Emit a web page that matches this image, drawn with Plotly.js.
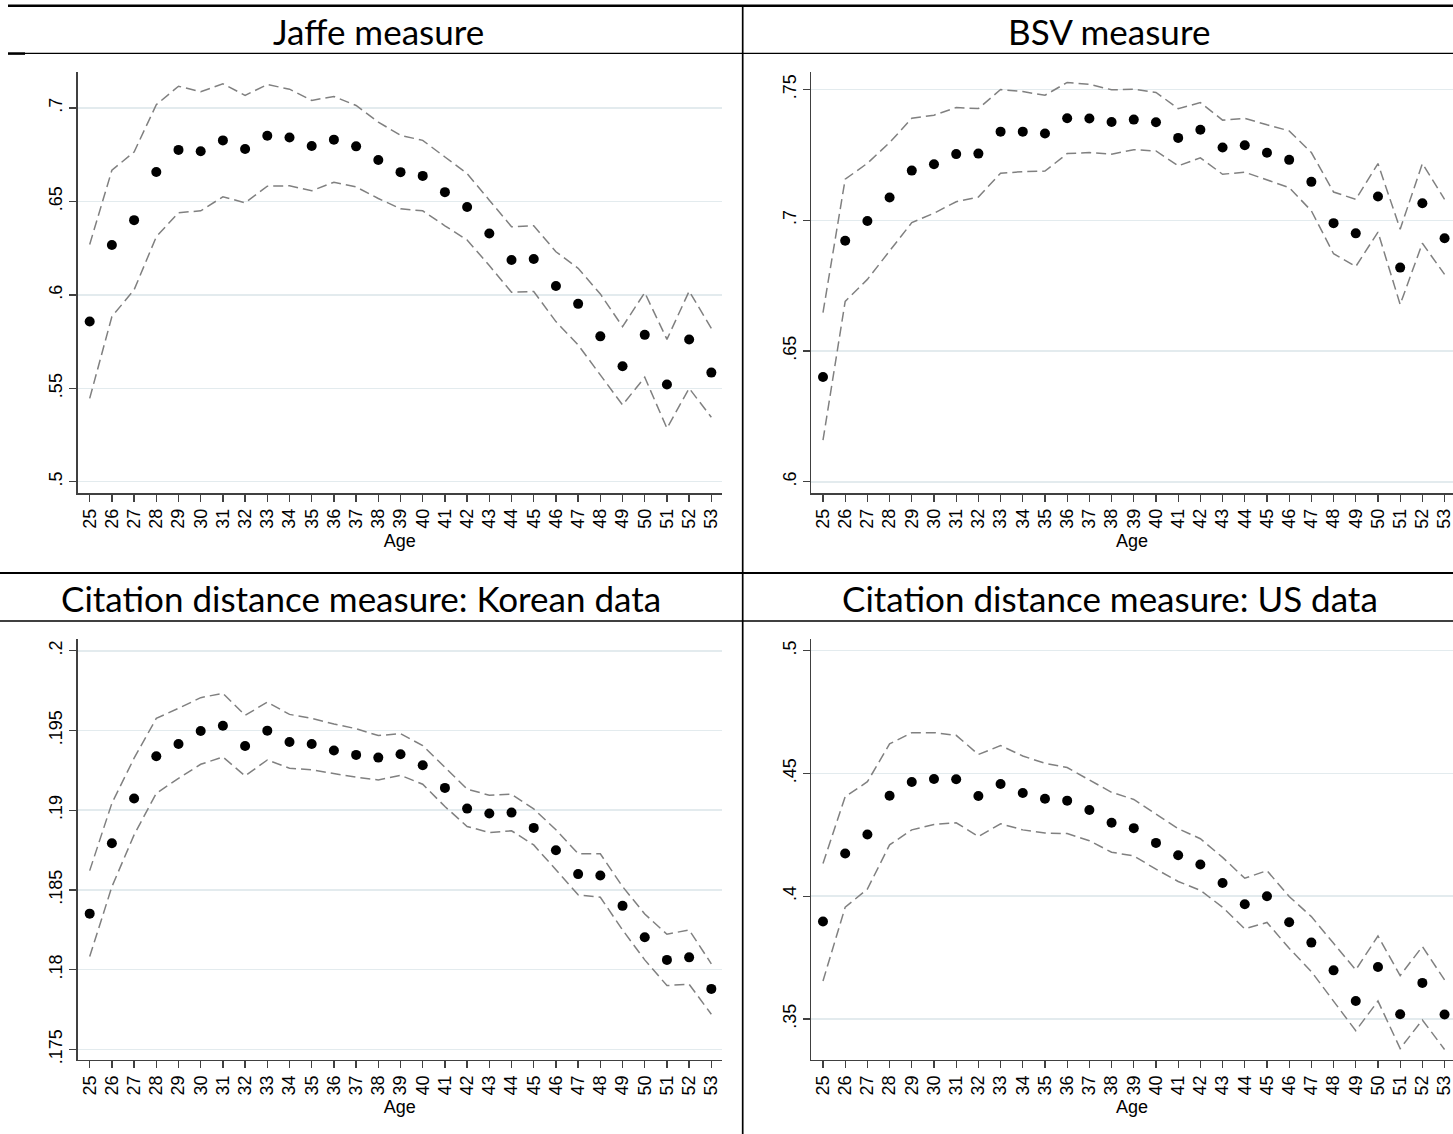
<!DOCTYPE html>
<html>
<head>
<meta charset="utf-8">
<script src="https://cdn.plot.ly/plotly-3.0.1.min.js"></script>
<style>
  html, body { margin: 0; padding: 0; background: #ffffff; }
  #chart { width: 1453px; height: 1134px; }
</style>
</head>
<body>
<div id="chart"></div>
<script>
// ---------- Data ----------
const ages = [25,26,27,28,29,30,31,32,33,34,35,36,37,38,39,40,41,42,43,44,45,46,47,48,49,50,51,52,53];

const jaffe      = [0.5858,0.6267,0.6400,0.6658,0.6776,0.6769,0.6827,0.6781,0.6852,0.6842,0.6797,0.6831,0.6795,0.6722,0.6657,0.6637,0.6550,0.6470,0.6329,0.6187,0.6192,0.6048,0.5952,0.5778,0.5618,0.5786,0.5520,0.5761,0.5584];
const jaffeUpper = [0.6270,0.6667,0.6765,0.7018,0.7117,0.7087,0.7130,0.7068,0.7126,0.7101,0.7041,0.7062,0.7014,0.6925,0.6854,0.6827,0.6738,0.6649,0.6507,0.6365,0.6370,0.6231,0.6142,0.6005,0.5830,0.6012,0.5762,0.6020,0.5821];
const jaffeLower = [0.5446,0.5884,0.6027,0.6311,0.6440,0.6450,0.6525,0.6493,0.6582,0.6584,0.6557,0.6603,0.6578,0.6516,0.6461,0.6450,0.6370,0.6294,0.6157,0.6014,0.6018,0.5857,0.5732,0.5571,0.5411,0.5559,0.5286,0.5500,0.5345];

const bsv      = [0.6401,0.6922,0.6997,0.7087,0.7190,0.7214,0.7253,0.7255,0.7339,0.7339,0.7332,0.7390,0.7389,0.7376,0.7385,0.7375,0.7315,0.7346,0.7278,0.7287,0.7258,0.7231,0.7147,0.6989,0.6950,0.7091,0.6819,0.7065,0.6931];
const bsvUpper = [0.6647,0.7157,0.7218,0.7297,0.7390,0.7402,0.7431,0.7427,0.7500,0.7492,0.7478,0.7527,0.7520,0.7499,0.7501,0.7489,0.7427,0.7450,0.7383,0.7390,0.7365,0.7342,0.7259,0.7108,0.7080,0.7217,0.6966,0.7217,0.7080];
const bsvLower = [0.6159,0.6690,0.6774,0.6883,0.6991,0.7027,0.7071,0.7089,0.7180,0.7186,0.7188,0.7255,0.7259,0.7253,0.7270,0.7265,0.7208,0.7239,0.7176,0.7184,0.7154,0.7125,0.7036,0.6872,0.6823,0.6955,0.6678,0.6912,0.6793];

const korea      = [0.18351,0.18793,0.19073,0.19338,0.19415,0.19497,0.19530,0.19403,0.19499,0.19428,0.19415,0.19374,0.19347,0.19330,0.19351,0.19282,0.19140,0.19010,0.18979,0.18985,0.18889,0.18749,0.18599,0.18590,0.18400,0.18203,0.18061,0.18077,0.17879];
const koreaUpper = [0.18621,0.19044,0.19326,0.19576,0.19639,0.19706,0.19733,0.19595,0.19678,0.19601,0.19576,0.19541,0.19511,0.19468,0.19480,0.19405,0.19269,0.19132,0.19094,0.19100,0.19008,0.18877,0.18727,0.18726,0.18521,0.18349,0.18222,0.18249,0.18036];
const koreaLower = [0.18082,0.18520,0.18845,0.19106,0.19200,0.19288,0.19334,0.19215,0.19315,0.19263,0.19253,0.19228,0.19207,0.19190,0.19219,0.19163,0.19023,0.18898,0.18860,0.18871,0.18782,0.18626,0.18469,0.18454,0.18249,0.18061,0.17900,0.17908,0.17720];

const us      = [0.3897,0.4174,0.4251,0.4409,0.4465,0.4477,0.4476,0.4408,0.4457,0.4420,0.4397,0.4389,0.4351,0.4299,0.4277,0.4217,0.4167,0.4129,0.4054,0.3967,0.4000,0.3894,0.3811,0.3698,0.3573,0.3712,0.3519,0.3647,0.3518];
const usUpper = [0.4133,0.4405,0.4466,0.4620,0.4666,0.4666,0.4655,0.4577,0.4613,0.4571,0.4541,0.4524,0.4473,0.4423,0.4394,0.4334,0.4275,0.4234,0.4158,0.4073,0.4104,0.3999,0.3917,0.3808,0.3700,0.3838,0.3677,0.3795,0.3659];
const usLower = [0.3655,0.3955,0.4029,0.4209,0.4270,0.4292,0.4299,0.4243,0.4295,0.4270,0.4257,0.4255,0.4226,0.4179,0.4164,0.4110,0.4060,0.4024,0.3955,0.3867,0.3893,0.3788,0.3693,0.3571,0.3452,0.3573,0.3380,0.3496,0.3376];

const panelTitles = ["Jaffe measure", "BSV measure", "Citation distance measure: Korean data", "Citation distance measure: US data"];
const xTitle = "Age";

const yTicks1 = [0.5, 0.55, 0.6, 0.65, 0.7];
const yText1  = [".5", ".55", ".6", ".65", ".7"];
const yTicks2 = [0.6, 0.65, 0.7, 0.75];
const yText2  = [".6", ".65", ".7", ".75"];
const yTicks3 = [0.175, 0.18, 0.185, 0.19, 0.195, 0.2];
const yText3  = [".175", ".18", ".185", ".19", ".195", ".2"];
const yTicks4 = [0.35, 0.4, 0.45, 0.5];
const yText4  = [".35", ".4", ".45", ".5"];

// ---------- Styling ----------
const W = 1453, H = 1134;
const px = v => v / W;
const py = v => 1 - v / H;

const ciLine = { color: "#808080", width: 1.5, dash: "10px,5px" };
const dot = { color: "#000000", size: 10, symbol: "circle" };

function panelTraces(xa, ya, mid, up, lo) {
  return [
    { x: ages, y: up, xaxis: xa, yaxis: ya, type: "scatter", mode: "lines", line: ciLine, hoverinfo: "skip", showlegend: false },
    { x: ages, y: lo, xaxis: xa, yaxis: ya, type: "scatter", mode: "lines", line: ciLine, hoverinfo: "skip", showlegend: false },
    { x: ages, y: mid, xaxis: xa, yaxis: ya, type: "scatter", mode: "markers", marker: dot, showlegend: false }
  ];
}

const data = [].concat(
  panelTraces("x", "y", jaffe, jaffeUpper, jaffeLower),
  panelTraces("x2", "y2", bsv, bsvUpper, bsvLower),
  panelTraces("x3", "y3", korea, koreaUpper, koreaLower),
  panelTraces("x4", "y4", us, usUpper, usLower)
);

const tickFont = { family: "Liberation Sans, Arial, sans-serif", size: 18, color: "#000000" };
const axisColor = "#404040";

function xAxis(domain, range, anchor) {
  return {
    domain: domain, range: range, anchor: anchor,
    tickmode: "array", tickvals: ages, ticktext: ages.map(String),
    tickangle: -90, tickfont: tickFont, ticklabeloverflow: "allow",
    ticks: "outside", ticklen: 7, tickwidth: 1.3, tickcolor: axisColor,
    showline: true, linecolor: axisColor, linewidth: 1.3,
    showgrid: false, zeroline: false, fixedrange: true,
    title: { text: xTitle, font: { family: "Liberation Sans Narrow, Liberation Sans, Arial, sans-serif", size: 18, color: "#000000" }, standoff: 6 }
  };
}
function yAxis(domain, range, anchor, tv, tt) {
  return {
    domain: domain, range: range, anchor: anchor,
    tickmode: "array", tickvals: tv, ticktext: tt,
    tickangle: -90, tickfont: tickFont, ticklabeloverflow: "allow",
    ticks: "outside", ticklen: 7, tickwidth: 1.3, tickcolor: axisColor,
    showline: true, linecolor: axisColor, linewidth: 1.3,
    showgrid: true, gridcolor: "#e3ebee", gridwidth: 1.5,
    zeroline: false, fixedrange: true
  };
}

const xdomL = [px(77.7), px(722)];
const xdomR = [px(811), 1];
const ydomT = [py(493.3), py(72)];
const ydomB = [py(1060), py(639.3)];

const titleFont = { family: "Lato, Open Sans, sans-serif", size: 35, color: "#000000" };

const layout = {
  width: W, height: H,
  margin: { l: 0, r: 0, t: 0, b: 0 },
  paper_bgcolor: "#ffffff", plot_bgcolor: "#ffffff",
  showlegend: false,
  xaxis:  xAxis(xdomL, [24.46, 53.48], "y"),
  yaxis:  yAxis(ydomT, [0.4938, 0.7193], "x", yTicks1, yText1),
  xaxis2: xAxis(xdomR, [24.46, 53.38], "y2"),
  yaxis2: yAxis(ydomT, [0.5956, 0.7567], "x2", yTicks2, yText2),
  xaxis3: xAxis(xdomL, [24.46, 53.48], "y3"),
  yaxis3: yAxis(ydomB, [0.17433, 0.20072], "x3", yTicks3, yText3),
  xaxis4: xAxis(xdomR, [24.46, 53.38], "y4"),
  yaxis4: yAxis(ydomB, [0.3333, 0.5046], "x4", yTicks4, yText4),
  annotations: [
    { text: panelTitles[0], x: px(378), y: py(31), xref: "paper", yref: "paper", xanchor: "center", yanchor: "middle", showarrow: false, font: titleFont },
    { text: panelTitles[1], x: px(1109), y: py(31), xref: "paper", yref: "paper", xanchor: "center", yanchor: "middle", showarrow: false, font: titleFont },
    { text: panelTitles[2], x: px(361), y: py(598), xref: "paper", yref: "paper", xanchor: "center", yanchor: "middle", showarrow: false, font: titleFont },
    { text: panelTitles[3], x: px(1110), y: py(598), xref: "paper", yref: "paper", xanchor: "center", yanchor: "middle", showarrow: false, font: titleFont }
  ],
  shapes: [
    { type: "line", xref: "paper", yref: "paper", x0: px(8), x1: 1, y0: py(5.7), y1: py(5.7), line: { color: "#000", width: 2.5 } },
    { type: "line", xref: "paper", yref: "paper", x0: px(8), x1: 1, y0: py(53.3), y1: py(53.3), line: { color: "#000", width: 1.3 } },
    { type: "line", xref: "paper", yref: "paper", x0: px(8), x1: px(25), y0: py(53.6), y1: py(53.6), line: { color: "#000", width: 2.5 } },
    { type: "line", xref: "paper", yref: "paper", x0: 0, x1: 1, y0: py(573), y1: py(573), line: { color: "#000", width: 2 } },
    { type: "line", xref: "paper", yref: "paper", x0: 0, x1: 1, y0: py(621), y1: py(621), line: { color: "#000", width: 1.3 } },
    { type: "line", xref: "paper", yref: "paper", x0: px(742.7), x1: px(742.7), y0: 0, y1: py(5.7), line: { color: "#000", width: 1.7 } }
  ]
};

Plotly.newPlot("chart", data, layout, { staticPlot: true, displayModeBar: false });
</script>
</body>
</html>
